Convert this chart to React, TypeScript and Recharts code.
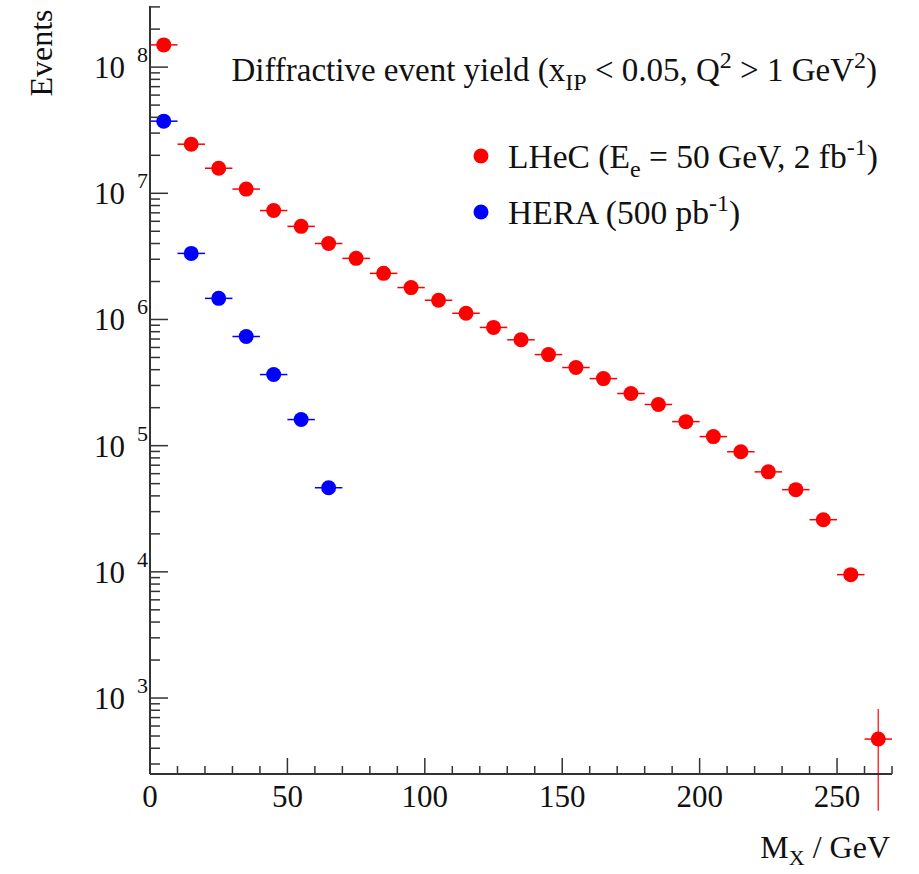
import { ErrorBar, Scatter, ScatterChart, XAxis, YAxis } from "recharts";

// M_X bin centres (GeV), bins are 10 GeV wide
const lhecMx = [
  5, 15, 25, 35, 45, 55, 65, 75, 85, 95, 105, 115, 125, 135, 145, 155, 165,
  175, 185, 195, 205, 215, 225, 235, 245, 255, 265,
];
const lhecEvents = [
  1.5e8, 2.45e7, 1.58e7, 1.08e7, 7.3e6, 5.47e6, 4.0e6, 3.05e6, 2.32e6, 1.79e6,
  1.42e6, 1.12e6, 8.65e5, 6.9e5, 5.27e5, 4.16e5, 3.4e5, 2.59e5, 2.12e5,
  1.55e5, 1.18e5, 8.95e4, 6.2e4, 4.48e4, 2.59e4, 9.5e3, 473,
];
const lhecYErr = [
  0, 0, 0, 0, 0, 0, 0, 0, 0, 0, 0, 0, 0, 0, 0, 0, 0, 0, 0, 0, 0, 0, 0, 0, 0, 0,
  345,
];
const heraMx = [5, 15, 25, 35, 45, 55, 65];
const heraEvents = [3.73e7, 3.34e6, 1.47e6, 7.33e5, 3.66e5, 1.61e5, 4.64e4];
const binHalfWidth = 5;

const xTicks = [
  0, 10, 20, 30, 40, 50, 60, 70, 80, 90, 100, 110, 120, 130, 140, 150, 160,
  170, 180, 190, 200, 210, 220, 230, 240, 250, 260, 270,
];
const xMajor = [0, 50, 100, 150, 200, 250];
const decades = [2, 3, 4, 5, 6, 7, 8];
const yMin = 250;
const yMax = 3.05e8;

const yTicks: number[] = [];
decades.forEach((d) => {
  for (let m = 1; m <= 9; m++) {
    const v = m * Math.pow(10, d);
    if (v >= yMin && v <= yMax) yTicks.push(v);
  }
});

const lhec = lhecMx.map((x, i) => ({
  x,
  y: lhecEvents[i],
  xErr: binHalfWidth,
  yErr: lhecYErr[i],
}));
const hera = heraMx.map((x, i) => ({
  x,
  y: heraEvents[i],
  xErr: binHalfWidth,
  yErr: 0,
}));

const FONT = "'Liberation Serif', 'DejaVu Serif', serif";
const FRAME = "#333";

const XTick = (props: any) => {
  const { x, y, payload } = props;
  const major = xMajor.includes(payload.value);
  return (
    <g>
      <line x1={x} x2={x} y1={y} y2={y - (major ? 16 : 8)} stroke={FRAME} strokeWidth={1.5} />
      {major && (
        <text x={x} y={y + 33} textAnchor="middle" fontFamily={FONT} fontSize={31} fill="#111">
          {payload.value}
        </text>
      )}
    </g>
  );
};

const YTick = (props: any) => {
  const { x, y, payload } = props;
  const exp = Math.log10(payload.value);
  const major = Math.abs(exp - Math.round(exp)) < 1e-9;
  return (
    <g>
      <line x1={x} x2={x + (major ? 18 : 10)} y1={y} y2={y} stroke={FRAME} strokeWidth={1.5} />
      {major && (
        <text x={x - 25} y={y + 11} textAnchor="end" fontFamily={FONT} fontSize={31} fill="#111">
          10
        </text>
      )}
      {major && (
        <text x={x - 13} y={y - 5} textAnchor="start" fontFamily={FONT} fontSize={22} fill="#111">
          {Math.round(exp)}
        </text>
      )}
    </g>
  );
};

const dot = (color: string) => (p: any) =>
  <circle cx={p.cx} cy={p.cy} r={7.5} fill={color} />;

export default function App() {
  return (
    <div style={{ position: "absolute", left: 0, top: 0, width: 919, height: 874, background: "#fff" }}>
      <ScatterChart width={919} height={874} margin={{ top: 6, right: 27, bottom: 0, left: 0 }}>
        <XAxis
          dataKey="x"
          type="number"
          domain={[0, 270]}
          ticks={xTicks}
          interval={0}
          height={100}
          tickSize={0}
          tickMargin={0}
          tick={<XTick />}
          axisLine={{ stroke: FRAME, strokeWidth: 2 }}
          tickLine={false}
        />
        <XAxis
          xAxisId="top"
          orientation="top"
          type="number"
          domain={[0, 270]}
          height={0}
          tick={false}
          tickLine={false}
          axisLine={{ stroke: FRAME, strokeWidth: 2 }}
        />
        <YAxis
          dataKey="y"
          type="number"
          scale="log"
          domain={[yMin, yMax]}
          allowDataOverflow
          ticks={yTicks}
          interval={0}
          width={150}
          tickSize={0}
          tickMargin={0}
          tick={<YTick />}
          axisLine={{ stroke: FRAME, strokeWidth: 2 }}
          tickLine={false}
        />
        <YAxis
          yAxisId="right"
          orientation="right"
          type="number"
          domain={[0, 1]}
          width={0}
          tick={false}
          tickLine={false}
          axisLine={{ stroke: FRAME, strokeWidth: 2 }}
        />
        <Scatter data={lhec} fill="#ff0000" shape={dot("#ff0000")} isAnimationActive={false}>
          <ErrorBar dataKey="xErr" direction="x" width={0} stroke="#ff0000" strokeWidth={1.5} isAnimationActive={false} />
          <ErrorBar dataKey="yErr" direction="y" width={0} stroke="#ff3333" strokeWidth={1.5} isAnimationActive={false} />
        </Scatter>
        <Scatter data={hera} fill="#0000ff" shape={dot("#0000ff")} isAnimationActive={false}>
          <ErrorBar dataKey="xErr" direction="x" width={0} stroke="#0000ff" strokeWidth={1.5} isAnimationActive={false} />
        </Scatter>
      </ScatterChart>
      <svg width={919} height={874} style={{ position: "absolute", left: 0, top: 0, pointerEvents: "none" }}>
        <g fontFamily={FONT} fill="#111">
          <text x={52} y={53} fontSize={32} textAnchor="middle" transform="rotate(-90 52 53)">
            Events
          </text>
          <text x={890} y={858} fontSize={32} textAnchor="end">
            M<tspan fontSize={22} dy={7}>X</tspan>
            <tspan dy={-7}> / GeV</tspan>
          </text>
          <text x={877} y={81} fontSize={33} textAnchor="end">
            Diffractive event yield (x<tspan fontSize={24} dy={9}>IP</tspan>
            <tspan dy={-9}> &lt; 0.05, Q</tspan>
            <tspan fontSize={24} dy={-13}>2</tspan>
            <tspan dy={13}> &gt; 1 GeV</tspan>
            <tspan fontSize={24} dy={-13}>2</tspan>
            <tspan dy={13}>)</tspan>
          </text>
          <circle cx={481} cy={156} r={7.5} fill="#ff0000" />
          <text x={508} y={168} fontSize={33.5}>
            LHeC (E<tspan fontSize={24} dy={9}>e</tspan>
            <tspan dy={-9}> = 50 GeV, 2 fb</tspan>
            <tspan fontSize={24} dy={-13}>-1</tspan>
            <tspan dy={13}>)</tspan>
          </text>
          <circle cx={481} cy={212} r={7.5} fill="#0000ff" />
          <text x={508} y={224} fontSize={33.5}>
            HERA (500 pb<tspan fontSize={24} dy={-13}>-1</tspan>
            <tspan dy={13}>)</tspan>
          </text>
        </g>
      </svg>
    </div>
  );
}
